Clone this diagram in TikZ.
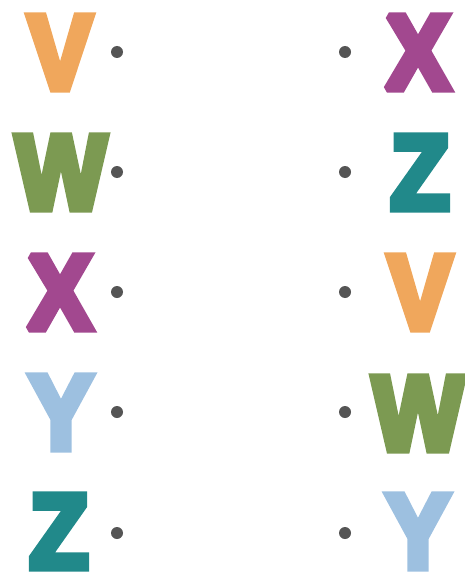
\documentclass[tikz,border=0pt]{standalone}
\usepackage{fontspec}
\newfontfamily\letterfont{Liberation Sans}[BoldFeatures={FakeBold=7,FakeStretch=0.9}]
\definecolor{cV}{HTML}{F0A75C}
\definecolor{cW}{HTML}{7C9A52}
\definecolor{cX}{HTML}{A2488F}
\definecolor{cY}{HTML}{9DC0E0}
\definecolor{cZ}{HTML}{21898A}
\definecolor{dotc}{HTML}{555555}
\tikzset{
  letter/.style={inner sep=0pt, anchor=base, line join=miter, miter limit=2,
    font=\letterfont\bfseries\fontsize{106}{106}\selectfont},
  pt/.style={circle, fill=dotc, inner sep=0pt, minimum size=12pt}
}
\begin{document}
\begin{tikzpicture}[x=1pt,y=-1pt]
\useasboundingbox (0,0) rectangle (464,578);
% left column
\node[letter, text=cV] (lV) at (60,89) {V};
\node[letter, text=cW] (lW) at (61,209) {W};
\node[letter, text=cX] (lX) at (60,329) {X};
\node[letter, text=cY] (lY) at (61,449) {Y};
\node[letter, text=cZ] (lZ) at (59,568) {Z};
\node[pt] (dl1) at (117,52) {};
\node[pt] (dl2) at (117,172) {};
\node[pt] (dl3) at (117,292) {};
\node[pt] (dl4) at (117,412) {};
\node[pt] (dl5) at (117,533) {};
% right column
\node[pt] (dr1) at (345,52) {};
\node[pt] (dr2) at (345,172) {};
\node[pt] (dr3) at (345,292) {};
\node[pt] (dr4) at (345,412) {};
\node[pt] (dr5) at (345,533) {};
\node[letter, text=cX] (rX) at (418,89) {X};
\node[letter, text=cZ] (rZ) at (420,209) {Z};
\node[letter, text=cV] (rV) at (420,329) {V};
\node[letter, text=cW] (rW) at (418,450) {W};
\node[letter, text=cY] (rY) at (418,568) {Y};
\end{tikzpicture}
\end{document}
